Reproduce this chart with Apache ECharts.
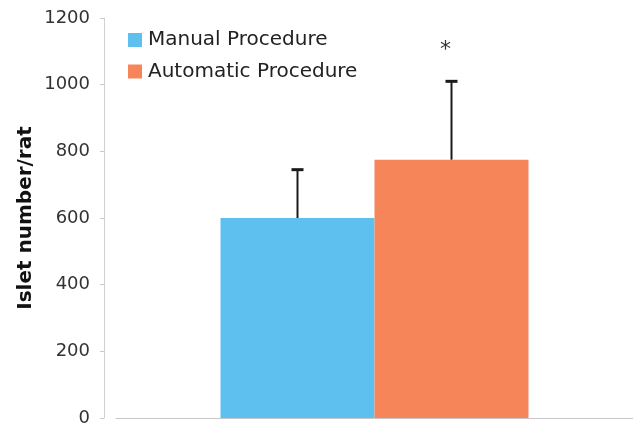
<!DOCTYPE html>
<html>
<head>
<meta charset="utf-8">
<script src="https://cdn.jsdelivr.net/npm/echarts@6/dist/echarts.min.js"></script>
<style>
  html, body { margin: 0; padding: 0; background: #fff; }
  #chart { width: 633px; height: 428px; }
</style>
</head>
<body>
<div id="chart"></div>
<script>
// Islet yield per rat, mean with upward SD whisker
const categories = ['Islet yield'];
const seriesNames = ['Manual Procedure', 'Automatic Procedure'];
const means = [600, 775];
const sd = [145, 235];
const significant = [false, true];
const yTicks = { min: 0, max: 1200, interval: 200 };

const colors = ['#5ec0ef', '#f6865a'];
const BAR_W = 154;
const FONT = '"DejaVu Sans", Verdana, sans-serif';

const chart = echarts.init(document.getElementById('chart'));

const barSeries = seriesNames.map((name, i) => ({
  name: name,
  type: 'bar',
  data: [means[i]],
  barWidth: BAR_W,
  barGap: '0%',
  itemStyle: { color: colors[i] },
  z: 2
}));

// whiskers + significance marks drawn over each bar
const errSeries = {
  type: 'custom',
  silent: true,
  z: 5,
  data: means.map((m, i) => [0, m, m + sd[i], i, significant[i] ? 1 : 0]),
  renderItem: function (params, api) {
    const idx = api.value(3);
    const offset = (idx - (means.length - 1) / 2) * BAR_W;
    const base = api.coord([api.value(0), api.value(1)]);
    const top = api.coord([api.value(0), api.value(2)]);
    const x = base[0] + offset;
    const children = [
      { type: 'line', shape: { x1: x, y1: base[1], x2: x, y2: top[1] },
        style: { stroke: '#1a1a1a', lineWidth: 2 } },
      { type: 'line', shape: { x1: x - 6, y1: top[1], x2: x + 6, y2: top[1] },
        style: { stroke: '#1a1a1a', lineWidth: 3 } }
    ];
    if (api.value(4)) {
      children.push({
        type: 'text',
        style: {
          text: '*', x: x - 6, y: top[1] - 31,
          fill: '#333', font: '22px "DejaVu Sans"',
          align: 'center', verticalAlign: 'middle'
        }
      });
    }
    return { type: 'group', children: children };
  }
};

chart.setOption({
  animation: false,
  textStyle: { fontFamily: FONT },
  legend: {
    data: seriesNames,
    orient: 'vertical',
    left: 123,
    top: 25,
    itemWidth: 14,
    itemHeight: 14,
    itemGap: 11.5,
    icon: 'rect',
    textStyle: { fontSize: 20, color: '#222', fontFamily: FONT, padding: [0, 0, 0, 1] }
  },
  // plot area starts a little right of the value axis line
  grid: { left: 116, right: 0, top: 18, bottom: 10, containLabel: false },
  xAxis: {
    type: 'category',
    data: categories,
    axisLine: { show: true, lineStyle: { color: '#c8c8c8', width: 1 } },
    axisTick: { show: false },
    axisLabel: { show: false }
  },
  yAxis: {
    type: 'value',
    offset: 12,
    min: yTicks.min,
    max: yTicks.max,
    interval: yTicks.interval,
    name: 'Islet number/rat',
    nameLocation: 'middle',
    nameGap: 68,
    nameMoveOverlap: false,
    nameTextStyle: { fontSize: 20, fontWeight: 'bold', color: '#111', fontFamily: FONT },
    axisLine: { show: true, lineStyle: { color: '#d0d0d0', width: 1 } },
    axisTick: { show: true, length: 4, lineStyle: { color: '#c8c8c8' } },
    axisLabel: { fontSize: 18, color: '#333', margin: 14, fontFamily: FONT,
                 formatter: v => String(v) },
    splitLine: { show: false }
  },
  series: barSeries.concat([errSeries])
});
</script>
</body>
</html>
